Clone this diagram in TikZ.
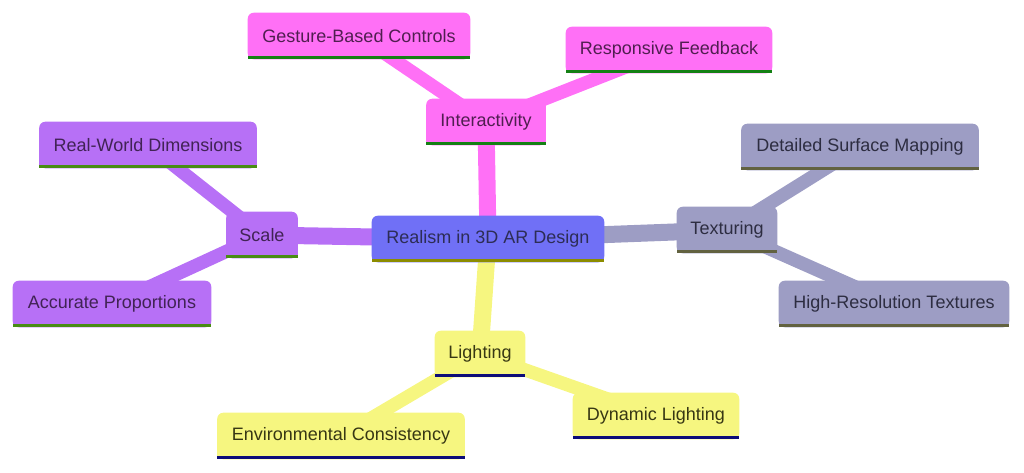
\documentclass[tikz,border=0pt]{standalone}
\usepackage{fontspec}
\setmainfont{Liberation Sans}
\usetikzlibrary{positioning}

% branch colours
\definecolor{rootfill}{RGB}{112,112,246}
\definecolor{rootline}{RGB}{140,140,0}
\definecolor{rootink}{RGB}{45,45,85}
\definecolor{pinkfill}{RGB}{255,112,246}
\definecolor{pinkline}{RGB}{20,128,20}
\definecolor{pinkink}{RGB}{80,30,80}
\definecolor{purplefill}{RGB}{183,112,246}
\definecolor{purpleline}{RGB}{72,140,20}
\definecolor{purpleink}{RGB}{65,35,85}
\definecolor{grayfill}{RGB}{157,157,196}
\definecolor{grayline}{RGB}{98,98,64}
\definecolor{grayink}{RGB}{45,45,65}
\definecolor{yellowfill}{RGB}{246,246,128}
\definecolor{yellowline}{RGB}{12,12,120}
\definecolor{yellowink}{RGB}{55,55,20}

\pgfdeclarelayer{edgelayer}
\pgfdeclarelayer{boxlayer}
\pgfsetlayers{edgelayer,boxlayer,main}

% box with rounded top and a coloured bottom line
\newcommand{\mmbox}[3]{%
  \fill[#2, rounded corners=4.5pt] (#1.south west) rectangle (#1.north east);
  \fill[#2] (#1.south west) rectangle (#1.east);
  \fill[#3] (#1.south west) rectangle ([yshift=2.4pt]#1.south east);
}

\begin{document}
\begin{tikzpicture}[x=0.75pt, y=-0.75pt,
    mmnode/.style={font=\fontsize{13.5}{16}\selectfont, text=#1, minimum height=34.5pt, inner xsep=2pt, inner ysep=0pt},
    branch/.style={draw=#1, line width=12.75pt},
    twig/.style={draw=#1, line width=10pt}
]
    \useasboundingbox (0,0) rectangle (1024,472);

    % root
    \node[mmnode=rootink, minimum width=174pt] (root) at (488,239) {Realism in 3D AR Design};

    % Interactivity
    \node[mmnode=pinkink, minimum width=89.25pt] (inter) at (486,122) {Interactivity};
    \node[mmnode=pinkink, minimum width=166.5pt] (gesture) at (359,36) {Gesture-Based Controls};
    \node[mmnode=pinkink, minimum width=154.5pt] (feedback) at (669,50) {Responsive Feedback};

    % Texturing
    \node[mmnode=grayink, minimum width=75pt] (tex) at (727,230) {Texturing};
    \node[mmnode=grayink, minimum width=177.75pt] (surface) at (860,147) {Detailed Surface Mapping};
    \node[mmnode=grayink, minimum width=172.5pt] (hires) at (894,304) {High-Resolution Textures};

    % Lighting
    \node[mmnode=yellowink, minimum width=67.5pt] (light) at (480,354) {Lighting};
    \node[mmnode=yellowink, minimum width=124.5pt] (dynamic) at (656,416) {Dynamic Lighting};
    \node[mmnode=yellowink, minimum width=185.25pt] (envcons) at (341,436) {Environmental Consistency};

    % Scale
    \node[mmnode=purpleink, minimum width=53.25pt] (scale) at (262,235) {Scale};
    \node[mmnode=purpleink, minimum width=162.75pt] (realdim) at (148,145) {Real-World Dimensions};
    \node[mmnode=purpleink, minimum width=148.5pt] (accurate) at (112,304) {Accurate Proportions};

    % boxes
    \begin{pgfonlayer}{boxlayer}
        \mmbox{root}{rootfill}{rootline}
        \mmbox{inter}{pinkfill}{pinkline}
        \mmbox{gesture}{pinkfill}{pinkline}
        \mmbox{feedback}{pinkfill}{pinkline}
        \mmbox{tex}{grayfill}{grayline}
        \mmbox{surface}{grayfill}{grayline}
        \mmbox{hires}{grayfill}{grayline}
        \mmbox{light}{yellowfill}{yellowline}
        \mmbox{dynamic}{yellowfill}{yellowline}
        \mmbox{envcons}{yellowfill}{yellowline}
        \mmbox{scale}{purplefill}{purpleline}
        \mmbox{realdim}{purplefill}{purpleline}
        \mmbox{accurate}{purplefill}{purpleline}
    \end{pgfonlayer}

    % connectors
    \begin{pgfonlayer}{edgelayer}
        \draw[branch=pinkfill] (root.center) -- (inter.center);
        \draw[branch=grayfill] (root.center) -- (tex.center);
        \draw[branch=yellowfill] (root.center) -- (light.center);
        \draw[branch=purplefill] (root.center) -- (scale.center);
        \draw[twig=pinkfill] (inter.center) -- (gesture.center);
        \draw[twig=pinkfill] (inter.center) -- (feedback.center);
        \draw[twig=grayfill] (tex.center) -- (surface.center);
        \draw[twig=grayfill] (tex.center) -- (hires.center);
        \draw[twig=yellowfill] (light.center) -- (dynamic.center);
        \draw[twig=yellowfill] (light.center) -- (envcons.center);
        \draw[twig=purplefill] (scale.center) -- (realdim.center);
        \draw[twig=purplefill] (scale.center) -- (accurate.center);
    \end{pgfonlayer}
\end{tikzpicture}
\end{document}
